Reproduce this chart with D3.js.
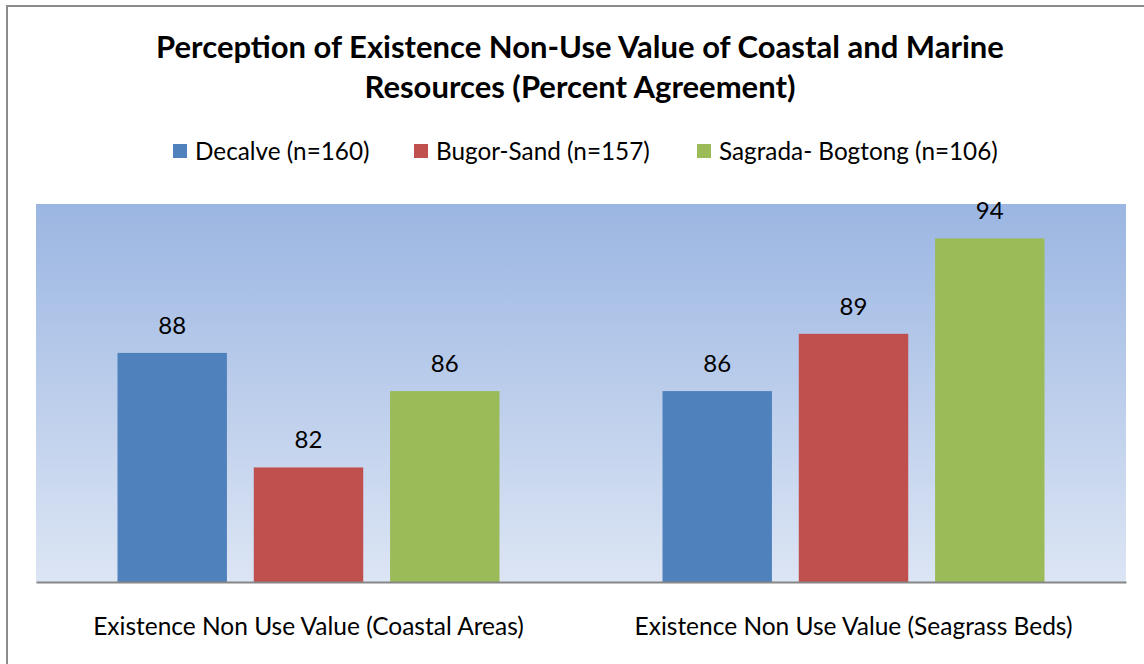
<!DOCTYPE html>
<html>
<head>
<meta charset="utf-8">
<script src="https://cdn.jsdelivr.net/npm/d3@7"></script>
<style>
  body { margin: 0; background: #fff; }
  text { font-family: Lato, "Open Sans", sans-serif; fill: #000; }
</style>
</head>
<body>
<div id="chart"></div>
<script>
// Data
const categories = ["Existence Non Use Value (Coastal Areas)", "Existence Non Use Value (Seagrass Beds)"];
const series = ["Decalve (n=160)", "Bugor-Sand (n=157)", "Sagrada- Bogtong (n=106)"];
const decalve = [88, 86];
const bugorSand = [82, 89];
const sagrada = [86, 94];
const colors = ["#4F81BD", "#C0504D", "#9BBB59"];
const titleLines = ["Perception of Existence Non-Use Value of Coastal and Marine", "Resources (Percent Agreement)"];

const width = 1144;
const height = 664;
const plot = { left: 36, right: 1126, top: 204, bottom: 582 };

const svg = d3.select("#chart")
  .append("svg")
  .attr("width", width)
  .attr("height", height);

// outer border of the chart
svg.append("rect")
  .attr("x", 7).attr("y", 6)
  .attr("width", 1200).attr("height", 700)
  .attr("fill", "#fff")
  .attr("stroke", "#8c8c8c")
  .attr("stroke-width", 2);

// plot area gradient
const grad = svg.append("defs").append("linearGradient")
  .attr("id", "bg").attr("x1", 0).attr("y1", 0).attr("x2", 0).attr("y2", 1);
grad.append("stop").attr("offset", "0%").attr("stop-color", "#9BB6E2");
grad.append("stop").attr("offset", "100%").attr("stop-color", "#DCE5F4");

svg.append("rect")
  .attr("x", plot.left).attr("y", plot.top)
  .attr("width", plot.right - plot.left).attr("height", plot.bottom - plot.top)
  .attr("fill", "url(#bg)");

// title
svg.append("text")
  .attr("text-anchor", "middle")
  .attr("font-size", 31)
  .attr("font-weight", "bold")
  .selectAll("tspan")
  .data(titleLines)
  .join("tspan")
  .attr("x", 580)
  .attr("y", (d, i) => 58 + i * 40)
  .text(d => d);

// legend
const legendX = [173, 414, 697];
const legend = svg.append("g")
  .selectAll("g")
  .data(series)
  .join("g")
  .attr("transform", (d, i) => `translate(${legendX[i]},144)`);
legend.append("rect")
  .attr("width", 14).attr("height", 14)
  .attr("fill", (d, i) => colors[i]);
legend.append("text")
  .attr("x", 22).attr("y", 16)
  .attr("font-size", 24.3)
  .text(d => d);

// scales
const x0 = d3.scaleBand()
  .domain(categories)
  .range([plot.left, plot.right]);

const outerGap = 81.5;
const x1 = d3.scaleBand()
  .domain(series)
  .range([outerGap, x0.bandwidth() - outerGap])
  .paddingInner(0.197);

const y = d3.scaleLinear()
  .domain([76, 95.8])
  .range([plot.bottom, plot.top]);

const rows = categories.map((c, i) => ({
  category: c,
  values: [decalve[i], bugorSand[i], sagrada[i]]
}));

const groups = svg.append("g")
  .selectAll("g")
  .data(rows)
  .join("g")
  .attr("transform", d => `translate(${x0(d.category)},0)`);

groups.selectAll("rect")
  .data(d => d.values.map((v, i) => ({ s: series[i], v: v, i: i })))
  .join("rect")
  .attr("x", d => x1(d.s))
  .attr("y", d => y(d.v))
  .attr("width", x1.bandwidth())
  .attr("height", d => y(y.domain()[0]) - y(d.v))
  .attr("fill", d => colors[d.i]);

groups.selectAll("text.value")
  .data(d => d.values.map((v, i) => ({ s: series[i], v: v })))
  .join("text")
  .attr("class", "value")
  .attr("x", d => x1(d.s) + x1.bandwidth() / 2)
  .attr("y", d => y(d.v) - 19)
  .attr("text-anchor", "middle")
  .attr("font-size", 24)
  .text(d => d.v);

// x axis
const xAxis = svg.append("g")
  .attr("transform", `translate(0,${plot.bottom})`)
  .call(d3.axisBottom(x0).tickSize(0).tickPadding(36));
xAxis.select(".domain").attr("stroke", "#868686").attr("stroke-width", 2);
xAxis.selectAll("text")
  .attr("font-size", 24.5)
  .attr("font-family", "Lato, 'Open Sans', sans-serif")
  .attr("fill", "#000");
</script>
</body>
</html>
